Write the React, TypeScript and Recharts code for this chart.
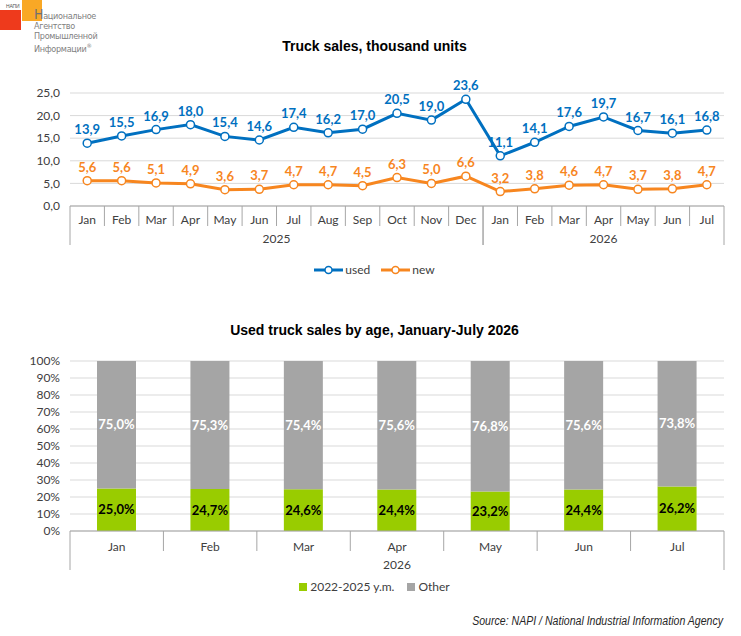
import React from 'react';
import { LineChart, Line, XAxis, YAxis, CartesianGrid, LabelList, Legend, BarChart, Bar } from 'recharts';

const months = ['Jan', 'Feb', 'Mar', 'Apr', 'May', 'Jun', 'Jul', 'Aug', 'Sep', 'Oct', 'Nov', 'Dec', 'Jan', 'Feb', 'Mar', 'Apr', 'May', 'Jun', 'Jul'];
const years = ['2025', '2025', '2025', '2025', '2025', '2025', '2025', '2025', '2025', '2025', '2025', '2025', '2026', '2026', '2026', '2026', '2026', '2026', '2026'];
const usedSales = [13.9, 15.5, 16.9, 18.0, 15.4, 14.6, 17.4, 16.2, 17.0, 20.5, 19.0, 23.6, 11.1, 14.1, 17.6, 19.7, 16.7, 16.1, 16.8];
const newSales = [5.6, 5.6, 5.1, 4.9, 3.6, 3.7, 4.7, 4.7, 4.5, 6.3, 5.0, 6.6, 3.2, 3.8, 4.6, 4.7, 3.7, 3.8, 4.7];
const salesTicks = [0, 5, 10, 15, 20, 25];

const ageMonths = ['Jan', 'Feb', 'Mar', 'Apr', 'May', 'Jun', 'Jul'];
const ageYears = ['2026', '2026', '2026', '2026', '2026', '2026', '2026'];
const recentShare = [25.0, 24.7, 24.6, 24.4, 23.2, 24.4, 26.2];
const otherShare = [75.0, 75.3, 75.4, 75.6, 76.8, 75.6, 73.8];
const pctTicks = [0, 10, 20, 30, 40, 50, 60, 70, 80, 90, 100];

const BLUE = '#0070C0';
const ORANGE = '#F7861F';
const GREEN = '#99CC00';
const GRAY = '#A5A5A5';
const TXT = '#404040';
const AXIS = '#A6A6A6';
const TICK_FONT = "Lato, 'Open Sans', sans-serif";
const TITLE_FONT = "'Liberation Sans', Arial, sans-serif";

const salesData = months.map((m, i) => ({ key: `${years[i]}-${m}-${i}`, month: m, year: years[i], used: usedSales[i], fresh: newSales[i] }));
const ageData = ageMonths.map((m, i) => ({ key: `${ageYears[i]}-${m}`, month: m, year: ageYears[i], recent: recentShare[i], other: otherShare[i] }));

const comma1 = (v: any) => Number(v).toFixed(1).replace('.', ',');
const pct1 = (v: any) => `${Number(v).toFixed(1).replace('.', ',')}%`;

const makeTick = (rows: { month: string; year: string }[], fallbackBand: number, monthDy: number, yearDy: number) => (props: any) => {
  const { x, y, payload } = props;
  const i: number = payload.index ?? props.index ?? 0;
  const off: number = payload.offset && payload.offset > 2 ? payload.offset : fallbackBand / 2;
  const row = rows[i];
  if (!row) return <g />;
  const left = x - off;
  const right = x + off;
  const startGroup = i === 0 || rows[i - 1].year !== row.year;
  const endGroup = i === rows.length - 1 || rows[i + 1].year !== row.year;
  let count = 0;
  if (startGroup) {
    for (let j = i; j < rows.length && rows[j].year === row.year; j++) count++;
  }
  return (
    <g>
      <line x1={left} x2={left} y1={y} y2={y + (startGroup ? 39 : 20)} stroke={AXIS} strokeWidth={1} />
      {endGroup && <line x1={right} x2={right} y1={y} y2={y + 39} stroke={AXIS} strokeWidth={1} />}
      <text x={x} y={y + monthDy} textAnchor="middle" dominantBaseline="central" fontSize={12} fill={TXT} fontFamily={TICK_FONT}>
        {row.month}
      </text>
      {startGroup && (
        <text x={left + count * off} y={y + yearDy} textAnchor="middle" dominantBaseline="central" fontSize={12} fill={TXT} fontFamily={TICK_FONT}>
          {row.year}
        </text>
      )}
    </g>
  );
};

const LineLegend = () => (
  <div style={{ display: 'flex', justifyContent: 'center', alignItems: 'center', gap: 11, fontFamily: TICK_FONT, fontSize: 12, color: TXT, paddingLeft: 8 }}>
    {[{ c: BLUE, n: 'used' }, { c: ORANGE, n: 'new' }].map((it) => (
      <div key={it.n} style={{ display: 'flex', alignItems: 'center' }}>
        <svg width={29} height={10} style={{ marginRight: 2 }}>
          <line x1={0} x2={29} y1={5} y2={5} stroke={it.c} strokeWidth={3} />
          <circle cx={14.5} cy={5} r={3.5} fill="#fff" stroke={it.c} strokeWidth={1.5} />
        </svg>
        <span>{it.n}</span>
      </div>
    ))}
  </div>
);

const BarLegend = () => (
  <div style={{ display: 'flex', justifyContent: 'center', alignItems: 'center', gap: 13, fontFamily: TICK_FONT, fontSize: 12, color: TXT, paddingLeft: 8 }}>
    {[{ c: GREEN, n: '2022-2025 y.m.' }, { c: GRAY, n: 'Other' }].map((it) => (
      <div key={it.n} style={{ display: 'flex', alignItems: 'center' }}>
        <span style={{ display: 'inline-block', width: 8, height: 8, background: it.c, marginRight: 3 }} />
        <span>{it.n}</span>
      </div>
    ))}
  </div>
);

const Logo = () => (
  <div style={{ position: 'absolute', left: 0, top: 0, width: 120, height: 55 }}>
    <div style={{ position: 'absolute', left: 22, top: 0, width: 20, height: 21, background: '#F9A825' }} />
    <div style={{ position: 'absolute', left: 0, top: 10, width: 21, height: 20, background: '#EE3A1C' }} />
    <div style={{ position: 'absolute', left: 6, top: 3, fontSize: 5, color: '#555', fontFamily: TITLE_FONT, letterSpacing: -0.2 }}>НАПИ</div>
    <div style={{ position: 'absolute', left: 34, top: 9, fontSize: 9, lineHeight: '10px', color: '#7F7F7F', fontFamily: "'DejaVu Sans Condensed', 'Liberation Sans Narrow', 'Liberation Sans', sans-serif", fontStretch: 'condensed', letterSpacing: -0.3 }}>
      <div><span style={{ fontSize: 14, color: '#707070' }}>Н</span>ациональное</div>
      <div>Агентство</div>
      <div>Промышленной</div>
      <div>Информации<sup style={{ fontSize: 6 }}>®</sup></div>
    </div>
  </div>
);

export default function App() {
  return (
    <div style={{ position: 'absolute', left: 0, top: 0, width: 741, height: 636, background: '#fff', overflow: 'hidden' }}>
      <Logo />
      <div style={{ position: 'absolute', top: 38, left: 4, width: 741, textAlign: 'center', fontFamily: TITLE_FONT, fontWeight: 'bold', fontSize: 14, color: '#000' }}>
        Truck sales, thousand units
      </div>
      <div style={{ position: 'absolute', left: 0, top: 0 }}>
        <LineChart width={741} height={300} data={salesData} margin={{ top: 93, right: 17, left: 0, bottom: 54 }}>
          <CartesianGrid vertical={false} stroke="#D9D9D9" />
          <XAxis dataKey="key" type="category" scale="band" interval={0} height={40} tickSize={0} tickMargin={0} tickLine={false} axisLine={{ stroke: AXIS }} tick={makeTick(salesData, 654 / salesData.length, 13, 32)} />
          <YAxis type="number" domain={[0, 25]} ticks={salesTicks} interval={0} width={70} axisLine={false} tickLine={false} tickSize={0} tickMargin={10} tickFormatter={comma1} tick={{ fontSize: 12, fill: TXT, fontFamily: TICK_FONT }} />
          <Legend layout="horizontal" verticalAlign="middle" align="center" wrapperStyle={{ top: 262, left: 0, width: 741 }} content={() => <LineLegend />} />
          <Line type="linear" dataKey="used" name="used" stroke={BLUE} strokeWidth={3} dot={{ r: 4, fill: '#fff', stroke: BLUE, strokeWidth: 1.5 }} isAnimationActive={false}>
            <LabelList dataKey="used" position="top" offset={9} formatter={comma1} fill={BLUE} fontSize={13} fontWeight="bold" fontFamily={TICK_FONT} />
          </Line>
          <Line type="linear" dataKey="fresh" name="new" stroke={ORANGE} strokeWidth={3} dot={{ r: 4, fill: '#fff', stroke: ORANGE, strokeWidth: 1.5 }} isAnimationActive={false}>
            <LabelList dataKey="fresh" position="top" offset={9} formatter={comma1} fill={ORANGE} fontSize={13} fontWeight="bold" fontFamily={TICK_FONT} />
          </Line>
        </LineChart>
      </div>
      <div style={{ position: 'absolute', top: 322, left: 4, width: 741, textAlign: 'center', fontFamily: TITLE_FONT, fontWeight: 'bold', fontSize: 14, color: '#000' }}>
        Used truck sales by age, January-July 2026
      </div>
      <div style={{ position: 'absolute', left: 0, top: 300 }}>
        <BarChart width={741} height={336} data={ageData} margin={{ top: 61, right: 17, left: 0, bottom: 65 }} barSize={39}>
          <CartesianGrid vertical={false} stroke="#D9D9D9" />
          <XAxis dataKey="key" type="category" interval={0} height={40} tickSize={0} tickMargin={0} tickLine={false} axisLine={{ stroke: AXIS }} tick={makeTick(ageData, 654 / ageData.length, 15, 33)} />
          <YAxis type="number" domain={[0, 100]} ticks={pctTicks} interval={0} width={70} axisLine={false} tickLine={false} tickSize={0} tickMargin={10} tickFormatter={(v: any) => `${v}%`} tick={{ fontSize: 12, fill: TXT, fontFamily: TICK_FONT }} />
          <Legend layout="horizontal" verticalAlign="middle" align="center" wrapperStyle={{ top: 279, left: 0, width: 741 }} content={() => <BarLegend />} />
          <Bar dataKey="recent" name="2022-2025 y.m." stackId="a" fill={GREEN} isAnimationActive={false}>
            <LabelList dataKey="recent" position="center" formatter={pct1} fill="#000" fontSize={13} fontWeight="bold" fontFamily={TICK_FONT} />
          </Bar>
          <Bar dataKey="other" name="Other" stackId="a" fill={GRAY} isAnimationActive={false}>
            <LabelList dataKey="other" position="center" formatter={pct1} fill="#fff" fontSize={13} fontWeight="bold" fontFamily={TICK_FONT} />
          </Bar>
        </BarChart>
      </div>
      <div style={{ position: 'absolute', right: 18, top: 614, fontFamily: TITLE_FONT, fontStyle: 'italic', fontSize: 12, color: '#262626', transform: 'scaleX(0.88)', transformOrigin: 'right center', whiteSpace: 'nowrap' }}>
        Source: NAPI / National Industrial Information Agency
      </div>
    </div>
  );
}
